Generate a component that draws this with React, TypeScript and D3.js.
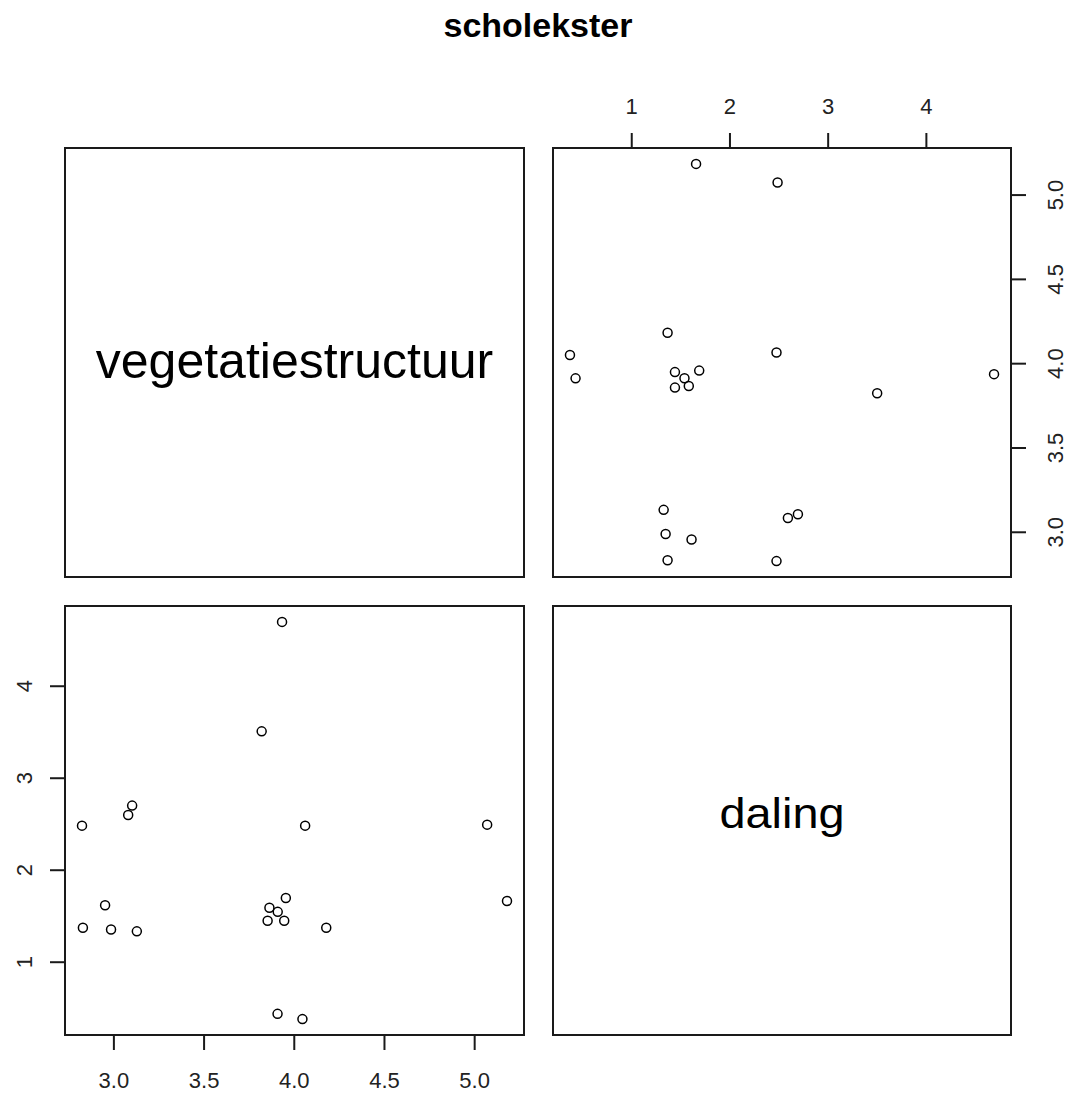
import React, { useEffect, useRef } from "react";
import * as d3 from "d3";

const vegetatiestructuur = [
  3.935, 3.822, 3.104, 3.082, 2.826, 4.063, 5.072, 5.182, 3.956, 2.954,
  3.865, 3.911, 3.855, 3.947, 2.831, 2.987, 3.13, 4.18, 3.91, 4.048,
];
const daling = [
  4.694, 3.504, 2.697, 2.595, 2.479, 2.479, 2.49, 1.66, 1.692, 1.614,
  1.586, 1.542, 1.445, 1.445, 1.37, 1.35, 1.33, 1.37, 0.433, 0.376,
];
const vegTicks = [3, 3.5, 4, 4.5, 5];
const dalTicks = [1, 2, 3, 4];
const title = "scholekster";
const labels = ["vegetatiestructuur", "daling"];

const W = 1071;
const H = 1098;
const FONT = "Arial, 'Liberation Sans', Helvetica, sans-serif";

// R style axis range: data extent extended by 4% on each side
const rRange = (v: number[]): [number, number] => {
  const [lo, hi] = d3.extent(v) as [number, number];
  const pad = (hi - lo) * 0.04;
  return [lo - pad, hi + pad];
};

const App: React.FC = () => {
  const svgRef = useRef<SVGSVGElement | null>(null);

  useEffect(() => {
    if (!svgRef.current) return;
    const svg = d3.select(svgRef.current);
    svg.selectAll("*").remove();

    const cols = [
      [65, 524],
      [553, 1011],
    ];
    const rows = [
      [148, 577],
      [606, 1035],
    ];

    svg
      .append("text")
      .attr("x", 538)
      .attr("y", 37)
      .attr("text-anchor", "middle")
      .style("font-family", FONT)
      .style("font-weight", "bold")
      .style("font-size", "34px")
      .text(title);

    // panel boxes
    rows.forEach((r) =>
      cols.forEach((c) =>
        svg
          .append("rect")
          .attr("x", c[0])
          .attr("y", r[0])
          .attr("width", c[1] - c[0])
          .attr("height", r[1] - r[0])
          .attr("fill", "none")
          .attr("stroke", "#1a1a1a")
          .attr("stroke-width", 2)
      )
    );

    // diagonal labels
    svg
      .append("text")
      .attr("x", (cols[0][0] + cols[0][1]) / 2)
      .attr("y", 378)
      .attr("text-anchor", "middle")
      .style("font-family", FONT)
      .style("font-size", "50px")
      .text(labels[0]);
    svg
      .append("text")
      .attr("x", (cols[1][0] + cols[1][1]) / 2)
      .attr("y", 828)
      .attr("text-anchor", "middle")
      .attr("textLength", 125)
      .attr("lengthAdjust", "spacingAndGlyphs")
      .style("font-family", FONT)
      .style("font-size", "42px")
      .text(labels[1]);

    const vegDom = rRange(vegetatiestructuur);
    const dalDom = rRange(daling);

    // lower-left: x = vegetatiestructuur, y = daling
    const xLL = d3.scaleLinear().domain(vegDom).range([cols[0][0], cols[0][1]]);
    const yLL = d3.scaleLinear().domain(dalDom).range([rows[1][1], rows[1][0]]);
    // upper-right: x = daling, y = vegetatiestructuur
    const xUR = d3.scaleLinear().domain(dalDom).range([cols[1][0], cols[1][1]]);
    const yUR = d3.scaleLinear().domain(vegDom).range([rows[0][1], rows[0][0]]);

    const styleAxis = (g: d3.Selection<SVGGElement, unknown, null, undefined>) => {
      g.select(".domain").remove();
      g.selectAll("line").attr("stroke", "#1a1a1a").attr("stroke-width", 2);
      g.selectAll("text")
        .attr("fill", "#222")
        .style("font-family", FONT)
        .style("font-size", "22px");
    };

    const fmt1 = d3.format(".1f");
    const fmt0 = d3.format("d");

    // bottom axis
    svg
      .append("g")
      .attr("transform", `translate(0,${rows[1][1]})`)
      .call(
        d3.axisBottom(xLL).tickValues(vegTicks).tickFormat((d) => fmt1(d as number)).tickSize(15).tickSizeOuter(0)
      )
      .call(styleAxis)
      .selectAll("text")
      .attr("y", 53)
      .attr("dy", 0);

    // left axis
    svg
      .append("g")
      .attr("transform", `translate(${cols[0][0]},0)`)
      .call(
        d3.axisLeft(yLL).tickValues(dalTicks).tickFormat((d) => fmt0(d as number)).tickSize(15).tickSizeOuter(0)
      )
      .call(styleAxis)
      .selectAll("text")
      .attr("transform", "rotate(-90)")
      .attr("x", 0)
      .attr("y", -33)
      .attr("dy", 0)
      .attr("text-anchor", "middle");

    // top axis
    svg
      .append("g")
      .attr("transform", `translate(0,${rows[0][0]})`)
      .call(
        d3.axisTop(xUR).tickValues(dalTicks).tickFormat((d) => fmt0(d as number)).tickSize(15).tickSizeOuter(0)
      )
      .call(styleAxis)
      .selectAll("text")
      .attr("y", -34)
      .attr("dy", 0);

    // right axis
    svg
      .append("g")
      .attr("transform", `translate(${cols[1][1]},0)`)
      .call(
        d3.axisRight(yUR).tickValues(vegTicks).tickFormat((d) => fmt1(d as number)).tickSize(15).tickSizeOuter(0)
      )
      .call(styleAxis)
      .selectAll("text")
      .attr("transform", "rotate(-90)")
      .attr("x", 0)
      .attr("y", 52)
      .attr("dy", 0)
      .attr("text-anchor", "middle");

    const idx = d3.range(vegetatiestructuur.length);

    svg
      .append("g")
      .selectAll("circle")
      .data(idx)
      .enter()
      .append("circle")
      .attr("cx", (i) => xLL(vegetatiestructuur[i]))
      .attr("cy", (i) => yLL(daling[i]))
      .attr("r", 4.5)
      .attr("fill", "none")
      .attr("stroke", "#000")
      .attr("stroke-width", 1.5);

    svg
      .append("g")
      .selectAll("circle")
      .data(idx)
      .enter()
      .append("circle")
      .attr("cx", (i) => xUR(daling[i]))
      .attr("cy", (i) => yUR(vegetatiestructuur[i]))
      .attr("r", 4.5)
      .attr("fill", "none")
      .attr("stroke", "#000")
      .attr("stroke-width", 1.5);
  }, []);

  return (
    <svg
      ref={svgRef}
      width={W}
      height={H}
      style={{ position: "absolute", left: 0, top: 0, background: "#fff" }}
    />
  );
};

export default App;
